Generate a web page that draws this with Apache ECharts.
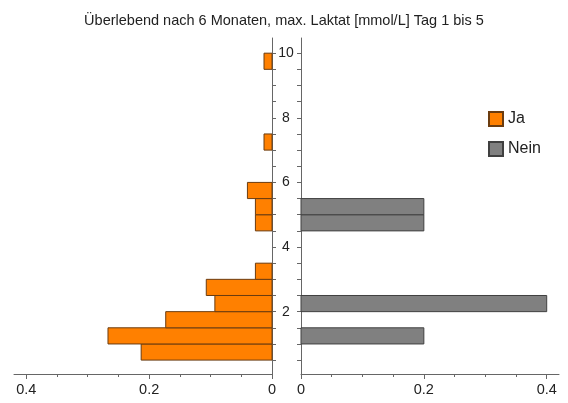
<!DOCTYPE html>
<html>
<head>
<meta charset="utf-8">
<script src="https://cdn.jsdelivr.net/npm/echarts@6/dist/echarts.min.js"></script>
<style>
  html, body { margin: 0; padding: 0; background: #fff; }
  #chart { width: 568px; height: 403px; }
</style>
</head>
<body>
<div id="chart"></div>
<script>
// Histogram bins: lower edge of each 0.5 mmol/L class
const binStart = [0.5, 1.0, 1.5, 2.0, 2.5, 3.0, 3.5, 4.0, 4.5, 5.0, 5.5, 6.0, 6.5, 7.0, 7.5, 8.0, 8.5, 9.0, 9.5];
const binWidth = 0.5;
// Relative frequencies per group
const ja   = [0.213, 0.267, 0.173, 0.093, 0.107, 0.027, 0, 0, 0.027, 0.027, 0.040, 0, 0, 0.013, 0, 0, 0, 0, 0.013];
const nein = [0, 0.2, 0, 0.4, 0, 0, 0, 0, 0.2, 0.2, 0, 0, 0, 0, 0, 0, 0, 0, 0];
// Axis ticks and labels
const yTickValues  = [0.5, 1, 1.5, 2, 2.5, 3, 3.5, 4, 4.5, 5, 5.5, 6, 6.5, 7, 7.5, 8, 8.5, 9, 9.5, 10];
const yLabelValues = [2, 4, 6, 8, 10];
const xMajorTicks  = [0, 0.2, 0.4];
const xMinorTicks  = [0.05, 0.1, 0.15, 0.25, 0.3, 0.35];

const titleText = 'Überlebend nach 6 Monaten, max. Laktat [mmol/L] Tag 1 bis 5';
const FONT = 'Liberation Sans, Arial, sans-serif';
const AXIS_COLOR = '#666';
const TEXT_COLOR = '#222';
const Y_MIN = 0.07, Y_MAX = 10.47;
const X_MAX = 0.42;

function makeData(values) {
  return binStart.map((b, i) => [b, values[i]]);
}

function barRenderer(fill, stroke) {
  return function (params, api) {
    const y0 = api.value(0);
    const v = api.value(1);
    if (!v) return null;
    const a = api.coord([0, y0]);
    const b = api.coord([v, y0 + binWidth]);
    const x = Math.min(a[0], b[0]);
    const w = Math.abs(b[0] - a[0]);
    const y = Math.min(a[1], b[1]);
    const h = Math.abs(a[1] - b[1]);
    return {
      type: 'rect',
      shape: { x: x, y: y, width: w, height: h },
      style: { fill: fill, stroke: stroke, lineWidth: 1 }
    };
  };
}

function xAxisMain(gridIndex, inverse) {
  return {
    gridIndex: gridIndex, type: 'value', inverse: inverse, position: 'bottom',
    min: 0, max: X_MAX,
    axisLine: { show: true, lineStyle: { color: AXIS_COLOR, width: 1 } },
    axisTick: { show: true, length: 5, customValues: xMajorTicks, lineStyle: { color: AXIS_COLOR } },
    axisLabel: {
      show: true, customValues: xMajorTicks, margin: 8,
      color: TEXT_COLOR, fontSize: 14.5, fontFamily: FONT,
      formatter: v => String(v)
    },
    splitLine: { show: false }
  };
}

function xAxisMinor(gridIndex, inverse) {
  return {
    gridIndex: gridIndex, type: 'value', inverse: inverse, position: 'bottom',
    min: 0, max: X_MAX,
    axisLine: { show: false },
    axisTick: { show: true, length: 3, customValues: xMinorTicks, lineStyle: { color: AXIS_COLOR } },
    axisLabel: { show: false },
    splitLine: { show: false }
  };
}

function yAxis(gridIndex, position, showLabels) {
  return {
    gridIndex: gridIndex, type: 'value', position: position,
    min: Y_MIN, max: Y_MAX,
    axisLine: { show: true, lineStyle: { color: AXIS_COLOR, width: 1 } },
    axisTick: { show: true, length: 4, customValues: yTickValues, lineStyle: { color: AXIS_COLOR } },
    axisLabel: {
      show: showLabels, customValues: yLabelValues, align: 'center', margin: 15,
      color: TEXT_COLOR, fontSize: 14, fontFamily: FONT
    },
    splitLine: { show: false }
  };
}

const chart = echarts.init(document.getElementById('chart'), null, { renderer: 'canvas' });

chart.setOption({
  animation: false,
  backgroundColor: '#fff',
  title: {
    text: titleText, left: 'center', top: 8,
    textStyle: { fontSize: 14.5, fontWeight: 'normal', color: TEXT_COLOR, fontFamily: FONT }
  },
  legend: {
    orient: 'vertical', left: 483, top: 106,
    itemWidth: 14, itemHeight: 14, itemGap: 14, icon: 'rect',
    textStyle: { fontSize: 16, color: TEXT_COLOR, fontFamily: FONT },
    data: ['Ja', 'Nein']
  },
  grid: [
    { left: 14, top: 38, width: 258, height: 336 },
    { left: 301, top: 38, width: 258, height: 336 }
  ],
  xAxis: [
    xAxisMain(0, true),
    xAxisMain(1, false),
    xAxisMinor(0, true),
    xAxisMinor(1, false)
  ],
  yAxis: [
    yAxis(0, 'right', false),
    yAxis(1, 'left', true)
  ],
  series: [
    {
      name: 'Ja', type: 'custom', xAxisIndex: 0, yAxisIndex: 0,
      encode: { x: 1, y: 0 },
      itemStyle: { color: '#ff8000', borderColor: '#6b3c10', borderWidth: 1 },
      renderItem: barRenderer('#ff8000', '#6b3c10'),
      data: makeData(ja)
    },
    {
      name: 'Nein', type: 'custom', xAxisIndex: 1, yAxisIndex: 1,
      encode: { x: 1, y: 0 },
      itemStyle: { color: '#808080', borderColor: '#404040', borderWidth: 1 },
      renderItem: barRenderer('#808080', '#404040'),
      data: makeData(nein)
    }
  ]
});
</script>
</body>
</html>
